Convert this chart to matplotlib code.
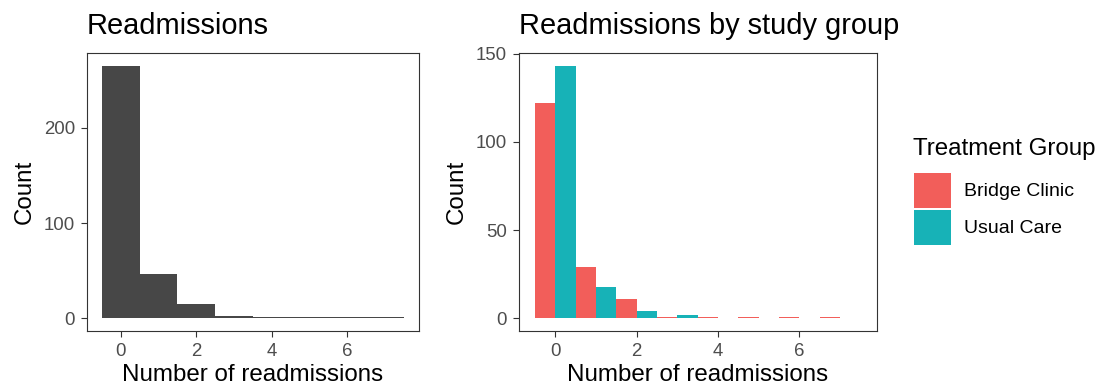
import matplotlib
matplotlib.use("Agg")
import matplotlib.pyplot as plt
import numpy as np

# Readmission counts per patient (bins of width 1)
n_readmit = np.arange(0, 8)
total_counts = [265, 47, 15, 3, 1, 1, 1, 1]
bridge_counts = [122, 29, 11, 1, 1, 1, 1, 1]
usual_counts = [143, 18, 4, 2, 0, 0, 0, 0]
group_names = ["Bridge Clinic", "Usual Care"]
group_colors = ["#F25E5A", "#17B2B7"]

plt.rcParams["font.family"] = ["Liberation Sans", "DejaVu Sans"]

W, H = 1102, 389
fig = plt.figure(figsize=(W / 100, H / 100), dpi=100)

def box(l, t, r, b):
    return [l / W, (H - b) / H, (r - l) / W, (b - t) / H]

ax1 = fig.add_axes(box(86.7, 53.3, 419.3, 331))
ax2 = fig.add_axes(box(518.7, 53.3, 876.7, 331))

ax1.bar(n_readmit, total_counts, width=1.0, color="#474747")
ax2.bar(n_readmit - 0.25, bridge_counts, width=0.5, color=group_colors[0], label=group_names[0])
ax2.bar(n_readmit + 0.25, usual_counts, width=0.5, color=group_colors[1], label=group_names[1])

def style(ax, ymax, yticks, title):
    ax.set_xlim(-0.9, 7.9)
    ax.set_ylim(-0.05 * ymax, 1.05 * ymax)
    ax.set_xticks([0, 2, 4, 6])
    ax.set_yticks(yticks)
    ax.tick_params(length=4.3, width=0.8, color="#333333", labelcolor="#4D4D4D",
                   labelsize=13.4, pad=4)
    for s in ax.spines.values():
        s.set_color("#333333")
        s.set_linewidth(0.8)
    ax.set_xlabel("Number of readmissions", fontsize=17.4, labelpad=3)
    ax.set_ylabel("Count", fontsize=17.4, labelpad=6)
    ax.set_title(title, loc="left", fontsize=20.9, pad=14)

style(ax1, max(total_counts), [0, 100, 200], "Readmissions")
style(ax2, max(usual_counts), [0, 50, 100, 150], "Readmissions by study group")

# legend title drawn separately so the gap above the keys can be set
fig.text(913 / W, 1 - 155 / H, "Treatment Group", fontsize=17.4, va="baseline", ha="left")
ax2.legend(loc="upper left", bbox_to_anchor=(914 / W, 1 - 172.5 / H),
           bbox_transform=fig.transFigure, frameon=False, fontsize=14,
           borderpad=0, handlelength=1.9, handleheight=2.4,
           handletextpad=0.67, labelspacing=0.1, borderaxespad=0)

fig.savefig("out.png", dpi=100)
